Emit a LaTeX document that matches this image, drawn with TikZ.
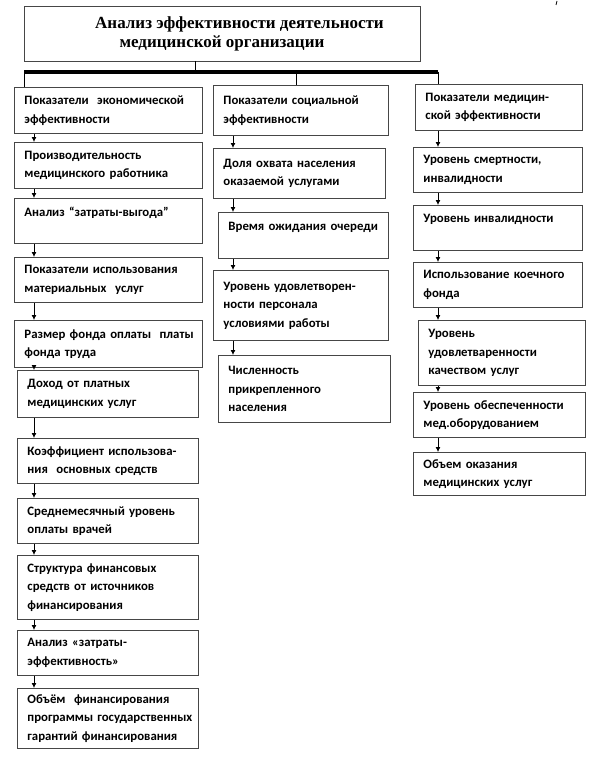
\documentclass[tikz,border=0pt]{standalone}
\usepackage{fontspec}
\setmainfont{Liberation Serif}
\newfontfamily\boxfont{Carlito}
\usetikzlibrary{arrows.meta,calc}
\definecolor{FrameGray}{RGB}{70,70,70}

\begin{document}
\begin{tikzpicture}[x=1pt,y=-1pt,>=Latex,
		cell/.style 2 args={draw=FrameGray,line width=0.9pt,anchor=north west,align=left,
			inner xsep=10pt,inner ysep=4pt,text width=#1pt,minimum height=#2pt,
			font=\boxfont\bfseries\fontsize{12.8}{18.5}\selectfont},
		arr/.style={-{Latex[length=5pt,width=5pt]},line width=0.8pt}]
		\useasboundingbox (0,0) rectangle (601,757);
		\fill[white] (0,0) rectangle (601,757);
		\draw[line width=0.8pt] (557,1) -- (556,5);
		
		% Заголовок
		\node[draw=FrameGray,line width=0.9pt,minimum width=396,minimum height=55,align=center,
		font=\bfseries\fontsize{17}{19}\selectfont] (title) at (222,33.5)
		{\hspace*{35pt}Анализ эффективности деятельности\\медицинской организации};
		
		\coordinate (stem) at (195,72);
		\coordinate (barL) at (24,72);
		\coordinate (barM) at (296,72);
		\coordinate (barR) at (438,72);
		
		% Экономическая эффективность
		\node[cell={168}{46}] (L1) at (14,87) {Показатели~~экономической\\эффективности};
		\node[cell={168}{46}] (L2) at (14,142) {Производительность\\медицинского работника};
		\node[cell={168}{45}] (L3) at (14,198) {Анализ “затраты-выгода”\\\mbox{}};
		\node[cell={168}{45}] (L4) at (14,257) {Показатели~использования\\материальных~~услуг};
		\node[cell={168}{47}] (L5) at (14,320) {Размер~фонда~оплаты~~платы\\фонда труда};
		\node[cell={161}{47}] (L6) at (17,370) {Доход от платных\\медицинских услуг};
		\node[cell={161}{45}] (L7) at (17,438) {Коэффициент~использова-\\ния~~основных средств};
		\node[cell={161}{45}] (L8) at (17,498) {Среднемесячный~уровень\\оплаты врачей};
		\node[cell={161}{64}] (L9) at (17,555) {Структура финансовых\\средств от источников\\финансирования};
		\node[cell={161}{45}] (L10) at (17,630) {Анализ «затраты-\\эффективность»};
		\node[cell={161}{60}] (L11) at (17,688) {Объём~~финансирования\\программы~государственных\\гарантий~финансирования};
		
		% Социальная эффективность
		\node[cell={155}{50}] (M1) at (213,85) {Показатели социальной\\эффективности};
		\node[cell={152}{50}] (M2) at (213,148) {Доля охвата населения\\оказаемой услугами};
		\node[cell={150}{46}] (M3) at (218,212) {Время~ожидания~очереди\\\mbox{}};
		\node[cell={155}{70}] (M4) at (213,270) {Уровень~удовлетворен-\\ности персонала\\условиями работы};
		\node[cell={152}{67}] (M5) at (218,355) {Численность\\прикрепленного\\населения};
		
		% Медицинская эффективность
		\node[cell={147}{46}] (R1) at (415,84) {Показатели~медицин-\\ской эффективности};
		\node[cell={149}{45}] (R2) at (413,147) {Уровень смертности,\\инвалидности};
		\node[cell={149}{45}] (R3) at (413,205) {Уровень инвалидности\\\mbox{}};
		\node[cell={149}{45}] (R4) at (413,262) {Использование~коечного\\фонда};
		\node[cell={147}{65}] (R5) at (418,320) {Уровень\\удовлетваренности\\качеством услуг};
		\node[cell={152}{45}] (R6) at (413,392) {Уровень~обеспеченности\\мед.оборудованием};
		\node[cell={152}{43}] (R7) at (413,452) {Объем оказания\\медицинских услуг};
		
		% шина и отводы
		\draw[line width=0.9pt] (title.south -| stem) -- (stem);
		\draw[line width=4pt] (barL) -- (barR);
		\draw[line width=0.9pt] (barL) -- (L1.north -| barL);
		\draw[line width=0.9pt] (barM) -- (M1.north -| barM);
		\draw[line width=0.9pt] (barR) -- (R1.north -| barR);
		
		% стрелки
		\coordinate (ax) at (34,0);
		\coordinate (bx) at (233,0);
		\coordinate (cx) at (438,0);
		\draw[arr] (L1.south -| ax) -- (L2.north -| ax);
		\draw[arr] (L2.south -| ax) -- (L3.north -| ax);
		\draw[arr] (L3.south -| ax) -- (L4.north -| ax);
		\draw[arr] (L4.south -| ax) -- (L5.north -| ax);
		\draw[arr] (L5.south -| ax) -- (L6.north -| ax);
		\draw[arr] (L6.south -| ax) -- (L7.north -| ax);
		\draw[arr] (L7.south -| ax) -- (L8.north -| ax);
		\draw[arr] (L8.south -| ax) -- (L9.north -| ax);
		\draw[arr] (L9.south -| ax) -- (L10.north -| ax);
		\draw[arr] (L10.south -| ax) -- (L11.north -| ax);
		\draw[arr] (M1.south -| bx) -- (M2.north -| bx);
		\draw[arr] (M2.south -| bx) -- (M3.north -| bx);
		\draw[arr] (M3.south -| bx) -- (M4.north -| bx);
		\draw[arr] (M4.south -| bx) -- (M5.north -| bx);
		\draw[arr] (R1.south -| cx) -- (R2.north -| cx);
		\draw[arr] (R2.south -| cx) -- (R3.north -| cx);
		\draw[arr] (R3.south -| cx) -- (R4.north -| cx);
		\draw[arr] (R4.south -| cx) -- (R5.north -| cx);
		\draw[arr] (R5.south -| cx) -- (R6.north -| cx);
		\draw[arr] (R6.south -| cx) -- (R7.north -| cx);
	\end{tikzpicture}
\end{document}
